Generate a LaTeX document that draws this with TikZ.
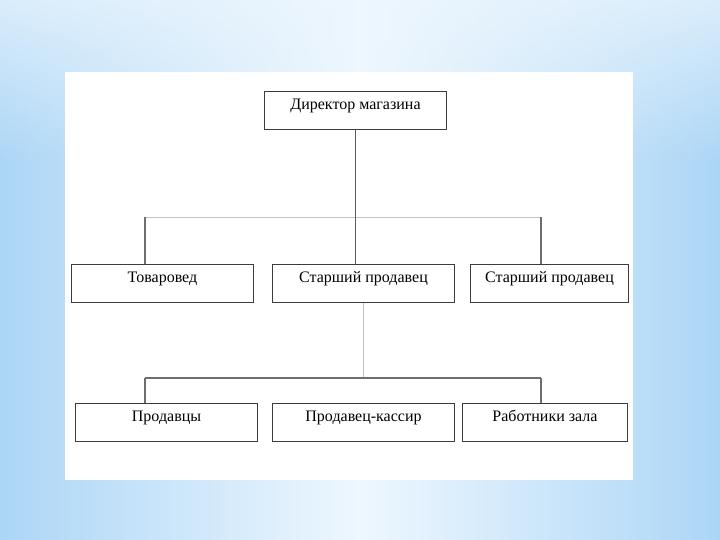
\documentclass[tikz,border=0pt]{standalone}
\usepackage{fontspec}
\setmainfont{Liberation Serif}
\usetikzlibrary{fadings}
\definecolor{bgedge}{RGB}{172,214,246}
\definecolor{bgmid}{RGB}{238,247,254}
\definecolor{boxline}{RGB}{60,60,60}
\definecolor{lightline}{RGB}{195,195,195}
\definecolor{midline}{RGB}{110,110,110}
\definecolor{darkline}{RGB}{90,90,90}
\tikzset{
  orgbox/.style={draw=boxline, line width=1pt, fill=white, rectangle, anchor=north west,
    inner xsep=0pt, inner ysep=0pt, text height=18pt, text depth=20pt,
    font=\fontsize{16}{18}\selectfont},
  darkconn/.style={draw=darkline, line width=1.8pt},
  lightconn/.style={draw=lightline, line width=0.9pt},
  medconn/.style={draw=midline, line width=1.1pt},
}
\begin{document}
\begin{tikzpicture}[x=1pt,y=-1pt]
\useasboundingbox (0,0) rectangle (720,540);
% background
\shade[left color=bgedge, right color=bgedge, middle color=bgmid] (0,0) rectangle (720,540);
\fill[bgmid, path fading=south, opacity=0.7] (0,0) rectangle (720,160);
% white panel
\fill[white] (65,72) rectangle (633,480);
% boxes
\node[orgbox, minimum width=182pt] (dir) at (264,91) {Директор магазина};
\node[orgbox, minimum width=182pt] (tov) at (71,264) {Товаровед};
\node[orgbox, minimum width=182pt] (st1) at (272,264) {Старший продавец};
\node[orgbox, minimum width=158pt] (st2) at (470,264) {Старший продавец};
\node[orgbox, minimum width=182pt] (prod) at (75,403) {Продавцы};
\node[orgbox, minimum width=182pt] (kas) at (272,403) {Продавец-кассир};
\node[orgbox, minimum width=165pt] (rab) at (462,403) {Работники зала};
% connector coordinates
\coordinate (h1l) at (145,217);
\coordinate (h1r) at (541,217);
\coordinate (h2l) at (145,378);
\coordinate (h2r) at (541,378);
% upper connectors
\draw[lightconn] (h1l) -- (h1r);
\draw[medconn] (h1l) -- (h1l |- tov.north);
\draw[medconn] (h1r) -- (h1r |- st2.north);
\draw[darkconn] (dir.south) -- (dir.south |- st1.north);
% lower connectors
\draw[lightconn] (st1.south) -- (st1.south |- h2l);
\draw[medconn] (h2l) -- (h2r);
\draw[medconn] (h2l) -- (h2l |- prod.north);
\draw[medconn] (h2r) -- (h2r |- rab.north);
\end{tikzpicture}
\end{document}
